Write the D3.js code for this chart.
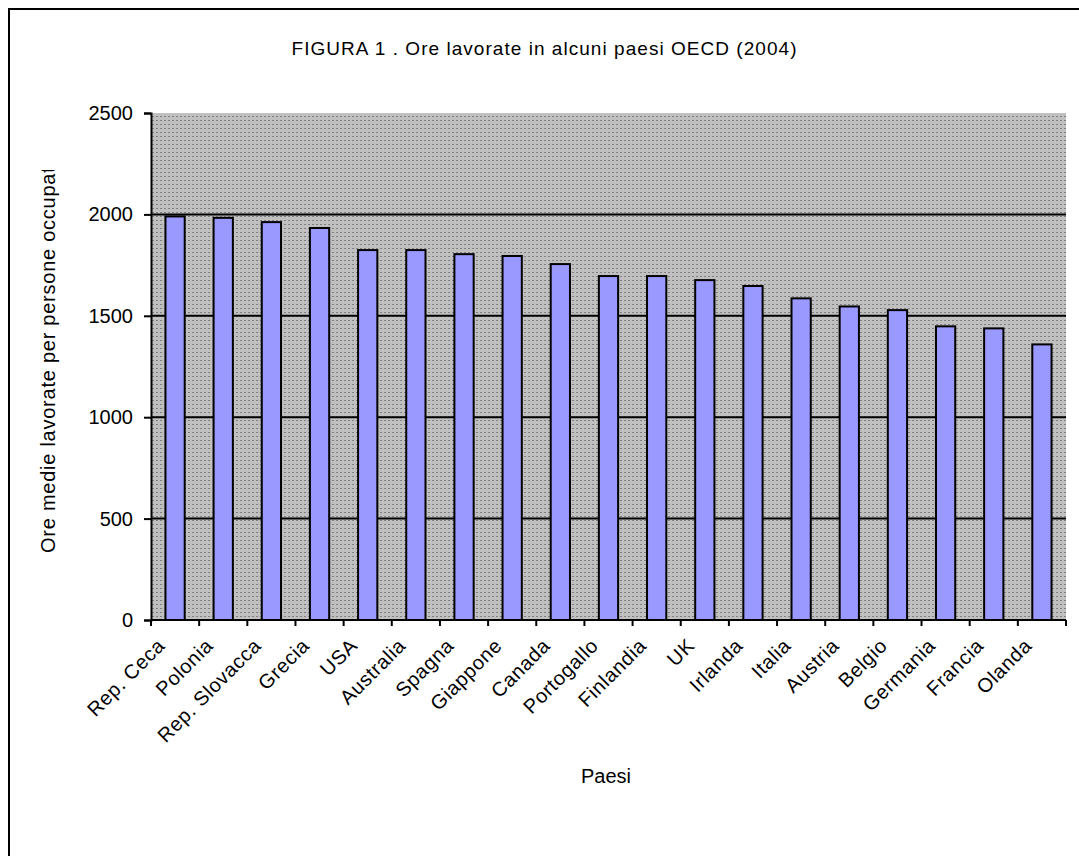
<!DOCTYPE html>
<html>
<head>
<meta charset="utf-8">
<script src="https://cdn.jsdelivr.net/npm/d3@7/dist/d3.min.js"></script>
<style>
  html, body { margin: 0; padding: 0; background: #ffffff; }
  svg { display: block; font-family: "Liberation Sans", Arial, sans-serif; }
</style>
</head>
<body>
<svg id="chart" width="1079" height="856"></svg>
<script>
// Average hours worked per employed person, OECD 2004
const countries = ["Rep. Ceca", "Polonia", "Rep. Slovacca", "Grecia", "USA", "Australia",
  "Spagna", "Giappone", "Canada", "Portogallo", "Finlandia", "UK", "Irlanda", "Italia",
  "Austria", "Belgio", "Germania", "Francia", "Olanda"];
const hours = [1990, 1983, 1962, 1933, 1824, 1824, 1804, 1795, 1755, 1696, 1696, 1676,
  1647, 1586, 1546, 1528, 1448, 1438, 1359];
const yTicks = [0, 500, 1000, 1500, 2000, 2500];

const titleText = "FIGURA 1 . Ore lavorate in alcuni paesi OECD (2004)";
const yLabel = "Ore medie lavorate per persone occupate";
const xLabel = "Paesi";

const svg = d3.select("#chart");
const plot = { left: 151, right: 1066, top: 113, bottom: 620 };

const defs = svg.append("defs");
const pat = defs.append("pattern")
  .attr("id", "dotFill").attr("width", 4).attr("height", 4)
  .attr("patternUnits", "userSpaceOnUse");
pat.append("rect").attr("width", 4).attr("height", 4).attr("fill", "#c0c0c0");
pat.append("rect").attr("x", 0).attr("y", 0).attr("width", 2).attr("height", 1).attr("fill", "#808080");

// The y-axis title is longer than the space above it and gets cut off
defs.append("clipPath").attr("id", "yLabelClip")
  .append("rect").attr("x", 0).attr("y", 170).attr("width", 120).attr("height", 500);

// Chart frame
svg.append("rect")
  .attr("x", 9).attr("y", 9).attr("width", 1200).attr("height", 1000)
  .attr("fill", "#ffffff").attr("stroke", "#000").attr("stroke-width", 2);

const x = d3.scaleBand().domain(countries).range([plot.left, plot.right]).paddingInner(0).paddingOuter(0);
const y = d3.scaleLinear().domain([0, 2500]).range([plot.bottom, plot.top]);

// Plot area background
svg.append("rect")
  .attr("x", plot.left).attr("y", plot.top)
  .attr("width", plot.right - plot.left).attr("height", plot.bottom - plot.top)
  .attr("fill", "url(#dotFill)");

// Horizontal gridlines
svg.append("g").selectAll("line")
  .data(yTicks.filter(t => t > 0 && t < 2500))
  .join("line")
  .attr("x1", plot.left).attr("x2", plot.right)
  .attr("y1", d => y(d)).attr("y2", d => y(d))
  .attr("stroke", "#000").attr("stroke-width", 2);

// Bars
const barW = x.bandwidth() * 0.4;
svg.append("g").selectAll("rect")
  .data(countries)
  .join("rect")
  .attr("x", d => x(d) + (x.bandwidth() - barW) / 2)
  .attr("y", (d, i) => y(hours[i]))
  .attr("width", barW)
  .attr("height", (d, i) => y(0) - y(hours[i]))
  .attr("fill", "#9999ff")
  .attr("stroke", "#000").attr("stroke-width", 2);

// Y axis
const yAxis = d3.axisLeft(y).tickValues(yTicks).tickSize(7).tickPadding(11).tickFormat(d3.format("d"));
const gy = svg.append("g").attr("transform", `translate(${plot.left},0)`).call(yAxis);
gy.select(".domain").attr("stroke", "#000").attr("stroke-width", 2);
gy.selectAll(".tick line").attr("stroke", "#000").attr("stroke-width", 2);
gy.selectAll(".tick text").attr("font-size", 20).attr("fill", "#000")
  .attr("font-family", "Liberation Sans, Arial, sans-serif");

// X axis: ticks at category boundaries
const gx = svg.append("g");
gx.append("line")
  .attr("x1", plot.left).attr("x2", plot.right)
  .attr("y1", plot.bottom).attr("y2", plot.bottom)
  .attr("stroke", "#000").attr("stroke-width", 2);
const boundaries = countries.map(c => x(c)).concat([plot.right]);
gx.selectAll("line.tk").data(boundaries).join("line").attr("class", "tk")
  .attr("x1", d => d).attr("x2", d => d)
  .attr("y1", plot.bottom).attr("y2", plot.bottom + 6)
  .attr("stroke", "#000").attr("stroke-width", 2);
gx.selectAll("text").data(countries).join("text")
  .attr("transform", d => `translate(${x(d) + x.bandwidth() / 2 - 9},${plot.bottom + 27}) rotate(-45)`)
  .attr("text-anchor", "end")
  .attr("font-size", 20)
  .attr("letter-spacing", 0.6)
  .attr("fill", "#000")
  .text(d => d);

// Title
svg.append("text")
  .attr("x", 544).attr("y", 55)
  .attr("text-anchor", "middle")
  .attr("font-size", 19)
  .attr("textLength", 505).attr("lengthAdjust", "spacing")
  .text(titleText);

// Axis titles
svg.append("g").attr("clip-path", "url(#yLabelClip)")
  .append("text")
  .attr("transform", "translate(55,553) rotate(-90)")
  .attr("text-anchor", "start")
  .attr("font-size", 20)
  .attr("letter-spacing", 0.75)
  .text(yLabel);

svg.append("text")
  .attr("x", 606).attr("y", 783)
  .attr("text-anchor", "middle")
  .attr("font-size", 20)
  .text(xLabel);
</script>
</body>
</html>
